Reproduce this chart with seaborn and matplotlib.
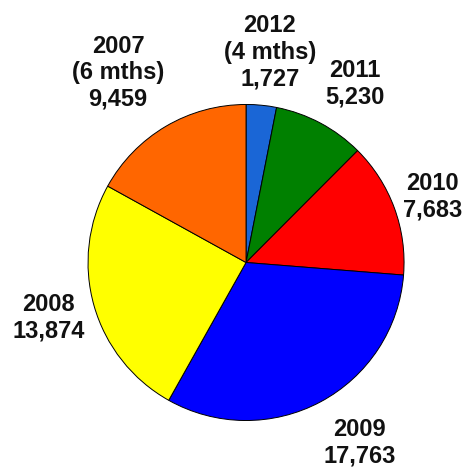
import matplotlib
matplotlib.use("Agg")
import matplotlib.pyplot as plt
import seaborn as sns

# Data (clockwise from 12 o'clock)
years = ["2012", "2011", "2010", "2009", "2008", "2007"]
notes = ["(4 mths)", "", "", "", "", "(6 mths)"]
counts = [1727, 5230, 7683, 17763, 13874, 9459]
colors = ["#1a66d6", "#008000", "#ff0000", "#0000ff", "#ffff00", "#ff6600"]

# label anchor points (in pie radius units, centre at 0,0)
label_x = [0.15, 0.69, 1.18, 0.72, -1.25, -0.81]
label_y = [1.33, 1.13, 0.415, -1.14, -0.35, 1.20]

sns.set_theme(style="white")
plt.rcParams["font.family"] = ["Liberation Sans", "DejaVu Sans"]

fig = plt.figure(figsize=(4.66, 4.67), dpi=100)
ax = fig.add_axes([0, 0, 1, 1])

ax.pie(counts, colors=sns.color_palette(colors), startangle=90, counterclock=False,
       radius=1.0, wedgeprops={"edgecolor": "black", "linewidth": 0.7})

for yr, note, n, x, y in zip(years, notes, counts, label_x, label_y):
    lines = [yr] + ([note] if note else []) + [f"{n:,}"]
    ax.text(x, y, "\n".join(lines), ha="center", va="center", fontsize=17,
            fontweight="bold", color="#111111", linespacing=1.2)

ax.set_xlim(-1.557, 1.392)
ax.set_ylim(-1.294, 1.661)
ax.set_aspect("equal")
ax.axis("off")

fig.savefig("out.png", dpi=100, facecolor="white")
